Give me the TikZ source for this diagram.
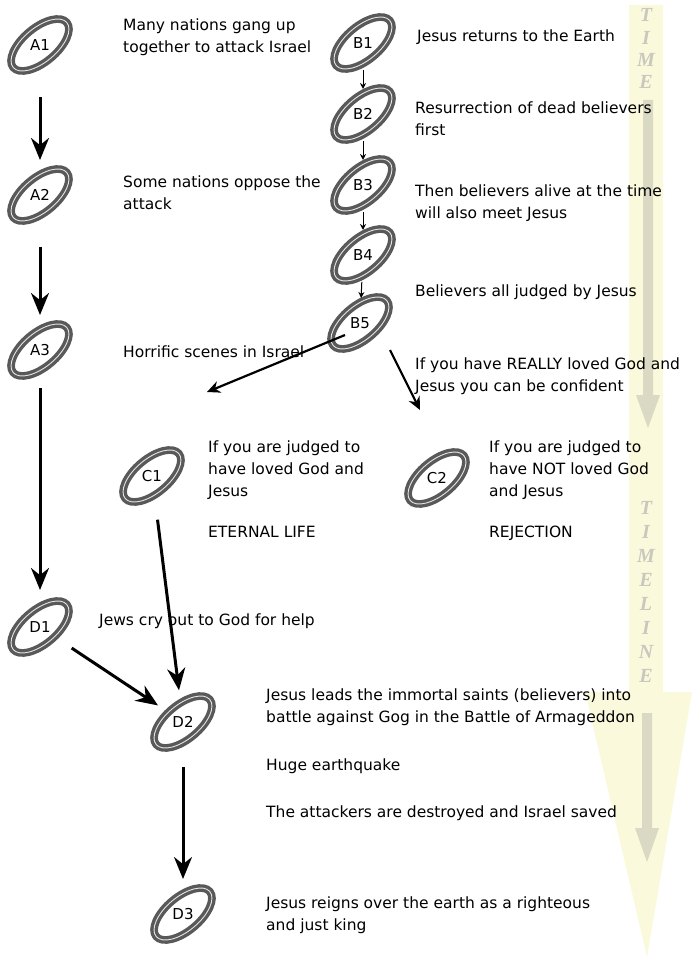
\documentclass[tikz,border=0pt]{standalone}
\usepackage{fontspec}
\setmainfont{DejaVu Sans}
\newfontfamily\tlfont{Liberation Serif}
\usetikzlibrary{arrows.meta,shapes.geometric,calc}
\definecolor{tlfill}{RGB}{250,249,220}
\definecolor{tlarrow}{RGB}{218,218,196}
\definecolor{tltext}{RGB}{200,200,190}
\tikzset{
 ringtxt/.style={inner sep=1pt,font=\fontsize{15}{17}\selectfont},
 ringline/.style={draw=gray!70!black,line width=3.4pt,double=gray!20,double distance=0.9pt},
 lbl/.style={anchor=north west,align=left,inner sep=0pt,font=\fontsize{15.5}{22}\selectfont},
 big/.style={line width=3pt,-{Stealth[length=22pt,width=18pt]}},
 small/.style={line width=1pt,-{Stealth[length=6pt,width=6pt]}},
 mid/.style={line width=2.2pt,-{Stealth[length=13pt,width=12pt]}},
 tl/.style={font=\tlfont\itshape\bfseries\fontsize{20}{20}\selectfont,text=tltext}
}
\begin{document}
\begin{tikzpicture}[x=1pt,y=-1pt]
\useasboundingbox (0,0) rectangle (692,965);
% timeline
\fill[tlfill] (629,5) -- (663,5) -- (663,692) -- (692,692) -- (647,957) -- (585,692) -- (629,692) -- cycle;
\fill[tlarrow] (643,100) -- (653,100) -- (653,395) -- (660,395) -- (648,428) -- (636,395) -- (643,395) -- cycle;
\fill[tlarrow] (642,713) -- (652,713) -- (652,828) -- (659,828) -- (647,862) -- (635,828) -- (642,828) -- cycle;
\foreach \c/\y/\n in {T/15/1,I/38/2,M/60/3,E/82/4} \node[tl] (t\n) at (646,\y) {\c};
\foreach \c/\y/\n in {T/508/1,I/532/2,M/556/3,E/580/4,L/604/5,I/628/6,N/652/7,E/676/8} \node[tl] (u\n) at (646,\y) {\c};
% nodes
\foreach \n/\x/\y in {A1/40/45,A2/40/195,A3/40/350,B1/363/43,B2/363/114,B3/363/185,B4/363/255,B5/360/323,C1/152/476,C2/437/478,D1/40/627,D2/183/722,D3/183/914}{
  \node[ringtxt] (\n) at (\x,\y) {\n};
  \draw[ringline,rotate around={40:(\n)}] (\n) ellipse (35pt and 17pt);
}
% labels
\node[lbl] (tA1) at (123,19) {Many nations gang up\\together to attack Israel};
\node[lbl] (tA2) at (123,176) {Some nations oppose the\\attack};
\node[lbl] (tA3) at (123,346) {Horrific scenes in Israel};
\node[lbl] (tB1) at (417,30) {Jesus returns to the Earth};
\node[lbl] (tB2) at (415,102) {Resurrection of dead believers\\first};
\node[lbl] (tB3) at (415,185) {Then believers alive at the time\\will also meet Jesus};
\node[lbl] (tB4) at (415,285) {Believers all judged by Jesus};
\node[lbl] (tB5) at (415,358) {If you have REALLY loved God and\\Jesus you can be confident};
\node[lbl] (tC1) at (208,441) {If you are judged to\\have loved God and\\Jesus\\[19pt]ETERNAL LIFE};
\node[lbl] (tC2) at (489,441) {If you are judged to\\have NOT loved God\\and Jesus\\[19pt]REJECTION};
\node[lbl] (tD1) at (99,614) {Jews cry out to God for help};
\node[lbl] (tD2) at (266,689) {Jesus leads the immortal saints (believers) into\\battle against Gog in the Battle of Armageddon\\[26pt]Huge earthquake\\[25pt]The attackers are destroyed and Israel saved};
\node[lbl] (tD3) at (266,897) {Jesus reigns over the earth as a righteous\\and just king};
% connectors
\draw[big,shorten <=52pt,shorten >=35pt] (A1.center) -- (A2.center);
\draw[big,shorten <=52pt,shorten >=35pt] (A2.center) -- (A3.center);
\draw[big,shorten <=38pt,shorten >=37pt] (A3.center) -- (D1.center);
\foreach \u/\v in {B1/B2,B2/B3,B3/B4,B4/B5}
  \draw[small,shorten <=27pt,shorten >=25pt] (\u.center) -- (\v.center);
\draw[mid] ($(B5)+(-15,12)$) -- ($(C1)+(55,-84)$);
\draw[mid] ($(B5)+(30,27)$) -- ($(C2)+(-17,-68)$);
\draw[big,shorten <=44pt,shorten >=32pt] (C1.center) -- (D2.center);
\draw[big,shorten <=38pt,shorten >=30pt] (D1.center) -- (D2.center);
\draw[big,shorten <=45pt,shorten >=35pt] (D2.center) -- (D3.center);
\end{tikzpicture}
\end{document}
